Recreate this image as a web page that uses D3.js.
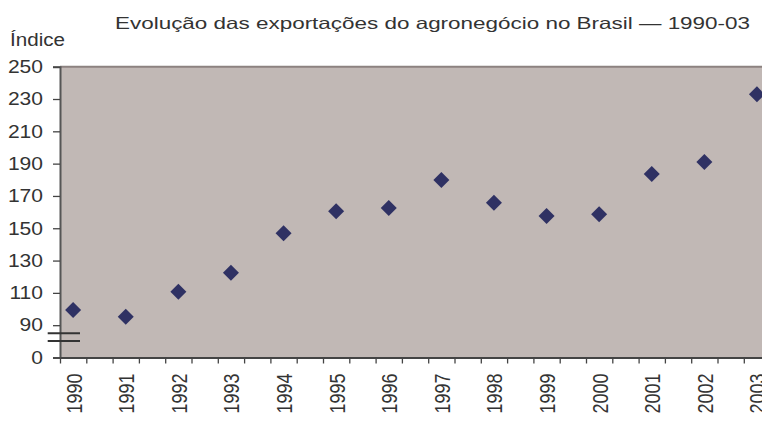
<!DOCTYPE html>
<html>
<head>
<meta charset="utf-8">
<script src="https://cdn.jsdelivr.net/npm/d3@7"></script>
<style>
  body { margin: 0; background: #fff; }
  svg text { font-family: "Liberation Sans", Arial, sans-serif; fill: #333; }
</style>
</head>
<body>
<svg></svg>
<script>
const years = [1990, 1991, 1992, 1993, 1994, 1995, 1996, 1997, 1998, 1999, 2000, 2001, 2002, 2003];
const indexValues = [99.4, 95.3, 110.7, 122.5, 146.9, 160.5, 162.5, 179.9, 165.8, 157.6, 158.6, 183.6, 191, 232.9];
const yTicks = [70, 90, 110, 130, 150, 170, 190, 210, 230, 250];
const yTickLabels = ['0', '90', '110', '130', '150', '170', '190', '210', '230', '250'];
const halfTicks = d3.range(1989.75, 2004, 0.5);

var svgWidth = 762;
var svgHeight = 421;
var stretch = 1.17;

var svg = d3.select('svg')
			.attr('width', svgWidth)
			.attr('height', svgHeight);

var x = d3.scaleLinear()
			.domain([1989.75, 2003.75])
			.range([60, 796.4]);

var y = d3.scaleLinear()
			.domain([70, 250])
			.range([357.5, 66.7]);

// plot background
svg.append('rect')
	.attr('x', x(1989.75))
	.attr('y', y(250))
	.attr('width', x(2003.75) - x(1989.75))
	.attr('height', y(70) - y(250))
	.attr('fill', '#c1b8b5');

// top border
svg.append('line')
	.attr('x1', x(1989.75)).attr('x2', x(2003.75))
	.attr('y1', y(250)).attr('y2', y(250))
	.attr('stroke', '#8c8280')
	.attr('stroke-width', 2);

// y axis
var yAxis = svg.append('g')
	.attr('transform', 'translate(' + x(1989.75) + ',0)')
	.call(d3.axisLeft(y)
		.tickValues(yTicks)
		.tickSize(7)
		.tickFormat((d, i) => yTickLabels[i]));
yAxis.select('.domain').attr('stroke', '#555').attr('stroke-width', 2);
yAxis.selectAll('.tick line').attr('stroke', '#444').attr('stroke-width', 1.3);
yAxis.selectAll('.tick text')
	.attr('font-size', 18)
	.attr('x', -17 / stretch)
	.attr('transform', 'scale(' + stretch + ',1)');

// x axis ticks
var xAxis = svg.append('g')
	.attr('transform', 'translate(0,' + y(70) + ')')
	.call(d3.axisBottom(x)
		.tickValues(halfTicks)
		.tickSize(6)
		.tickSizeOuter(0)
		.tickFormat(''));
xAxis.select('.domain').attr('stroke', '#444').attr('stroke-width', 2);
xAxis.selectAll('.tick line').attr('stroke', '#444').attr('stroke-width', 1.3);

// x labels
var xLabels = svg.append('g')
	.attr('transform', 'translate(0,' + y(70) + ')')
	.call(d3.axisBottom(x)
		.tickValues(years)
		.tickSize(0)
		.tickFormat(d3.format('d')));
xLabels.select('.domain').remove();
xLabels.selectAll('.tick text')
	.attr('font-size', 18)
	.attr('text-anchor', 'end')
	.attr('x', 0)
	.attr('y', 0)
	.attr('dy', '0.36em')
	.attr('transform', 'translate(0,16) rotate(-90) scale(1,1.22)');

// axis break marks
[333.3, 341].forEach(yy => {
	svg.append('line')
		.attr('x1', 47.7).attr('x2', 80)
		.attr('y1', yy).attr('y2', yy)
		.attr('stroke', '#333')
		.attr('stroke-width', 2);
});

// points
var diamond = d3.symbol().type(d3.symbolSquare).size(128);
svg.selectAll('path.pt')
	.data(years)
	.enter()
	.append('path')
	.attr('class', 'pt')
	.attr('d', diamond)
	.attr('fill', '#2f3163')
	.attr('transform', (d, i) => 'translate(' + x(d) + ',' + y(indexValues[i]) + ') rotate(45)');

// titles
svg.append('text')
	.attr('x', 115)
	.attr('y', 29)
	.attr('font-size', 16.5)
	.attr('textLength', 635)
	.attr('lengthAdjust', 'spacingAndGlyphs')
	.text('Evolução das exportações do agronegócio no Brasil — 1990-03');

svg.append('text')
	.attr('x', 10)
	.attr('y', 46)
	.attr('font-size', 18)
	.attr('textLength', 55)
	.attr('lengthAdjust', 'spacingAndGlyphs')
	.text('Índice');
</script>
</body>
</html>
